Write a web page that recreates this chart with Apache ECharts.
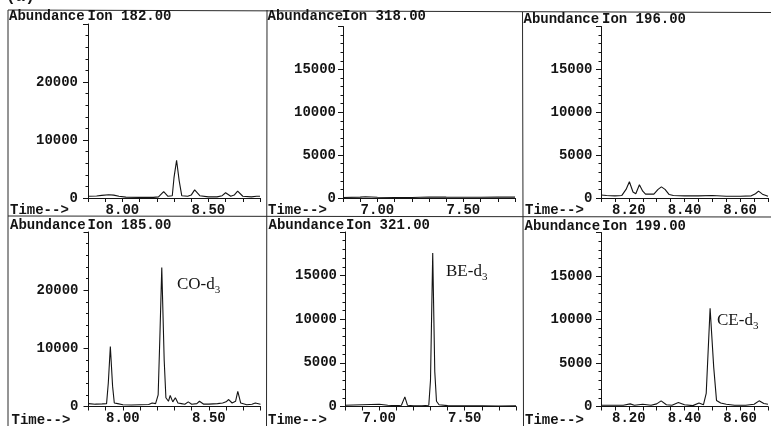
<!DOCTYPE html>
<html>
<head>
<meta charset="utf-8">
<script src="https://cdn.jsdelivr.net/npm/echarts@6/dist/echarts.min.js"></script>
<style>
html,body{margin:0;padding:0;background:#fff;}
#chart{width:771px;height:426px;}
</style>
</head>
<body>
<div id="chart"></div>
<script>
// ---------------- DATA ----------------
const ionLabels = ['Ion 182.00', 'Ion 318.00', 'Ion 196.00', 'Ion 185.00', 'Ion 321.00', 'Ion 199.00'];
const yAxisName = 'Abundance';
const xAxisName = 'Time-->';
const compoundLabels = ['CO-d', 'BE-d', 'CE-d'];
const compoundSub = '3';

// x tick labels per panel
const xTickLabels = [
  [8.00, 8.50], [7.00, 7.50], [8.20, 8.40, 8.60],
  [8.00, 8.50], [7.00, 7.50], [8.20, 8.40, 8.60]
];
const xMin = [7.80, 6.80, 8.10, 7.80, 6.80, 8.10];
const xMax = [8.80, 7.80, 8.70, 8.80, 7.80, 8.70];
const xStep = [0.1, 0.1, 0.05, 0.1, 0.1, 0.05];
const yMax = [30000, 20000, 20000, 30000, 20000, 20000];
const yStep = [10000, 5000, 5000, 10000, 5000, 5000];

// Ion 182
const ion182Time  = [7.80, 7.85, 7.88, 7.92, 7.95, 7.98, 8.02, 8.10, 8.18, 8.21, 8.24, 8.265, 8.29, 8.30, 8.315, 8.33, 8.345, 8.38, 8.40, 8.42, 8.45, 8.50, 8.55, 8.58, 8.60, 8.63, 8.65, 8.67, 8.70, 8.75, 8.78, 8.80];
const ion182Abund = [300, 350, 450, 550, 500, 300, 150, 100, 100, 200, 1100, 300, 400, 3500, 6500, 3000, 400, 300, 500, 1400, 400, 200, 200, 400, 900, 300, 500, 1200, 300, 200, 300, 300];
// Ion 318
const ion318Time  = [6.80, 6.90, 6.93, 7.00, 7.10, 7.20, 7.30, 7.40, 7.50, 7.60, 7.70, 7.80];
const ion318Abund = [50, 100, 150, 80, 60, 60, 120, 100, 90, 80, 120, 100];
// Ion 196
const ion196Time  = [8.10, 8.12, 8.15, 8.175, 8.19, 8.202, 8.215, 8.225, 8.238, 8.25, 8.26, 8.29, 8.305, 8.317, 8.33, 8.345, 8.36, 8.40, 8.45, 8.50, 8.55, 8.60, 8.64, 8.655, 8.666, 8.68, 8.70];
const ion196Abund = [350, 300, 250, 300, 1000, 1900, 700, 500, 1550, 800, 450, 450, 1000, 1300, 1000, 400, 300, 250, 250, 300, 200, 200, 250, 500, 800, 450, 200];
// Ion 185
const ion185Time  = [7.80, 7.84, 7.88, 7.905, 7.915, 7.927, 7.94, 7.95, 7.97, 8.00, 8.05, 8.10, 8.15, 8.17, 8.19, 8.205, 8.215, 8.226, 8.24, 8.25, 8.265, 8.275, 8.29, 8.305, 8.32, 8.34, 8.36, 8.38, 8.40, 8.43, 8.445, 8.47, 8.50, 8.55, 8.58, 8.60, 8.615, 8.635, 8.655, 8.668, 8.685, 8.72, 8.75, 8.77, 8.80];
const ion185Abund = [500, 400, 450, 500, 4000, 10300, 3500, 600, 500, 300, 250, 300, 350, 600, 500, 2000, 12000, 23900, 8000, 1500, 900, 1900, 800, 1500, 600, 500, 400, 800, 400, 500, 900, 400, 400, 500, 600, 800, 1200, 600, 900, 2600, 600, 300, 400, 600, 400];
// Ion 321
const ion321Time  = [6.80, 6.90, 7.00, 7.05, 7.10, 7.13, 7.15, 7.165, 7.20, 7.25, 7.29, 7.30, 7.313, 7.325, 7.335, 7.35, 7.40, 7.50, 7.60, 7.70, 7.80];
const ion321Abund = [150, 200, 250, 150, 100, 150, 1100, 150, 80, 80, 150, 3000, 17600, 4000, 600, 200, 100, 80, 80, 60, 80];
// Ion 199
const ion199Time  = [8.10, 8.15, 8.18, 8.205, 8.22, 8.25, 8.28, 8.30, 8.316, 8.335, 8.355, 8.378, 8.40, 8.43, 8.452, 8.468, 8.478, 8.492, 8.505, 8.515, 8.53, 8.55, 8.58, 8.62, 8.65, 8.668, 8.685, 8.70];
const ion199Abund = [150, 150, 150, 300, 150, 250, 150, 300, 650, 200, 150, 450, 200, 100, 400, 200, 1500, 11300, 4500, 700, 400, 250, 150, 150, 250, 650, 350, 250];

const panelTimes = [ion182Time, ion318Time, ion196Time, ion185Time, ion321Time, ion199Time];
const panelAbund = [ion182Abund, ion318Abund, ion196Abund, ion185Abund, ion321Abund, ion199Abund];

// ---------------- LAYOUT ----------------
const gridBoxes = [
  {left: 88,  top: 24,   width: 172, height: 174},
  {left: 343, top: 26.5, width: 172, height: 171.5},
  {left: 601, top: 26.5, width: 174, height: 171.5},
  {left: 88.5, top: 232, width: 172, height: 174.5},
  {left: 345, top: 232,  width: 171, height: 174.5},
  {left: 601, top: 232.5, width: 174, height: 174}
];
const yLabelMargin = [10, 7, 8.5, 10, 8, 8.5];
const headPos = [ // [abundance x, y, ion x]
  [9, 16.5, 87.5], [267.5, 16.5, 342], [523.5, 19, 602],
  [10, 225, 87.5], [268.5, 225, 346], [524.5, 226, 602]
];
const timePos = [[10, 210], [268, 210], [525, 210.5], [11.5, 420], [268, 420], [525, 420]];
const compoundPos = [[177, 285, 3], [446, 272, 4], [717, 321, 5]];

const MONO = '"Liberation Mono", "DejaVu Sans Mono", monospace';
const INK = '#141414';

const grids = [], xAxes = [], yAxes = [], series = [];
for (let i = 0; i < 6; i++) {
  grids.push(Object.assign({containLabel: false}, gridBoxes[i]));
  const labs = xTickLabels[i];
  xAxes.push({
    type: 'value', gridIndex: i, min: xMin[i], max: xMax[i], interval: xStep[i],
    axisLine: {show: true, onZero: false, lineStyle: {color: INK, width: 1}},
    axisTick: {show: true, inside: false, length: 4, lineStyle: {color: INK, width: 1}},
    splitLine: {show: false},
    axisLabel: {
      margin: 5, fontFamily: MONO, fontSize: 14, fontWeight: 'bold', color: INK,
      showMinLabel: true, showMaxLabel: true,
      formatter: function (v) {
        for (const l of labs) { if (Math.abs(v - l) < 1e-6) return l.toFixed(2); }
        return '';
      }
    }
  });
  yAxes.push({
    type: 'value', gridIndex: i, min: 0, max: yMax[i], interval: yStep[i],
    axisLine: {show: true, onZero: false, lineStyle: {color: INK, width: 1}},
    axisTick: {show: true, inside: false, length: 5, lineStyle: {color: INK, width: 1}},
    minorTick: {show: true, splitNumber: 5, length: 2.5, lineStyle: {color: INK, width: 1}},
    splitLine: {show: false},
    axisLabel: {
      margin: yLabelMargin[i], fontFamily: MONO, fontSize: 14, fontWeight: 'bold', color: INK,
      showMaxLabel: false,
      formatter: function (v) { return v >= yMax[i] - 1e-6 ? '' : String(v); }
    }
  });
  series.push({
    type: 'line', xAxisIndex: i, yAxisIndex: i,
    data: panelTimes[i].map((t, k) => [t, panelAbund[i][k]]),
    showSymbol: false, symbol: 'none', smooth: false,
    lineStyle: {color: INK, width: 1.1},
    animation: false, silent: true
  });
}

const graphics = [];
// frame lines
const frameLines = [
  [8, 10, 771, 12.5], [8, 10, 8, 426], [267, 10, 266.5, 426], [522.5, 12, 523.5, 426], [8, 216, 771, 217]
];
frameLines.forEach(l => graphics.push({
  type: 'line', shape: {x1: l[0], y1: l[1], x2: l[2], y2: l[3]},
  style: {stroke: '#2a2a2a', lineWidth: 1}, silent: true
}));
// "(a)"
graphics.push({type: 'text', x: 6, y: 5, style: {text: '(a)', font: 'bold 16px ' + MONO, fill: INK, textVerticalAlign: 'bottom'}});
for (let i = 0; i < 6; i++) {
  const h = headPos[i];
  graphics.push({type: 'text', x: h[0], y: h[1], style: {text: yAxisName, font: 'bold 14px ' + MONO, fill: INK, textVerticalAlign: 'middle'}});
  graphics.push({type: 'text', x: h[2], y: h[1], style: {text: ionLabels[i], font: 'bold 14px ' + MONO, fill: INK, textVerticalAlign: 'middle'}});
  const tp = timePos[i];
  graphics.push({type: 'text', x: tp[0], y: tp[1], style: {text: xAxisName, font: 'bold 14px ' + MONO, fill: INK, textVerticalAlign: 'middle'}});
}
compoundPos.forEach((c, k) => {
  graphics.push({
    type: 'text', x: c[0], y: c[1],
    style: {
      text: '{m|' + compoundLabels[k] + '}{s|' + compoundSub + '}',
      textVerticalAlign: 'middle',
      rich: {
        m: {fontFamily: '"Liberation Serif", serif', fontSize: 17, fill: INK, color: INK, lineHeight: 22, verticalAlign: 'middle'},
        s: {fontFamily: '"Liberation Serif", serif', fontSize: 11, fill: INK, color: INK, lineHeight: 22, verticalAlign: 'bottom'}
      }
    }
  });
});

const chart = echarts.init(document.getElementById('chart'), null, {renderer: 'canvas'});
chart.setOption({
  backgroundColor: '#ffffff',
  animation: false,
  grid: grids, xAxis: xAxes, yAxis: yAxes, series: series,
  graphic: {elements: graphics}
});
</script>
</body>
</html>
